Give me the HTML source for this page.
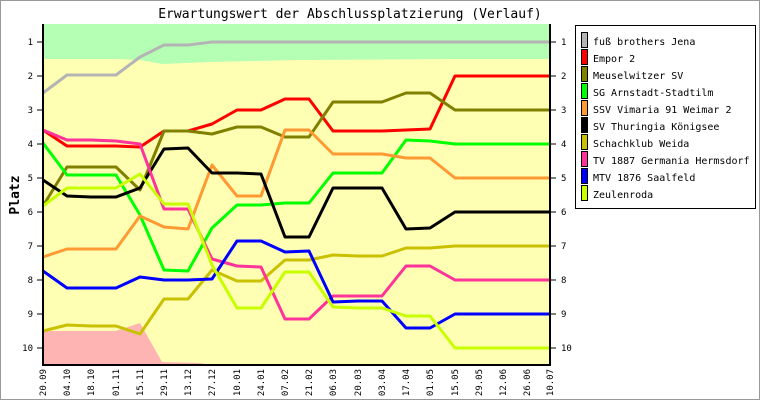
<!DOCTYPE html>
<html><head><meta charset="utf-8"><style>
html,body{margin:0;padding:0;background:#fff}
svg{display:block}
text{font-family:"DejaVu Sans Mono","Liberation Mono",monospace}
</style></head><body>
<svg width="760" height="400" viewBox="0 0 760 400" xmlns="http://www.w3.org/2000/svg">
<rect x="0.5" y="0.5" width="759" height="399" fill="#fff" stroke="#999"/>
<text x="350" y="18" font-size="13" text-anchor="middle" fill="#000">Erwartungswert der Abschlussplatzierung (Verlauf)</text>
<text transform="translate(19,195) rotate(-90)" font-size="13" font-weight="bold" text-anchor="middle" fill="#000">Platz</text>
<rect x="43" y="24" width="507" height="341" fill="#ffffb4"/>
<path d="M43,24 H550 V59 L460,59 L300,60 L210,62 L162,64 L140,60 L116,59 L43,59 Z" fill="#b4ffb4"/>
<path d="M43,331 L116,331 L140,323 L162,362 L200,363 L210,365 L43,365 Z" fill="#ffb4b4"/>
<g fill="none" stroke-width="3" stroke-linejoin="round">
<polyline stroke="#b4b4b4" points="43,93 67,75 91,75 116,75 140,57 164,45 188,45 212,42 237,42 261,42 285,42 309,42 333,42 358,42 382,42 406,42 430,42 455,42 479,42 503,42 527,42 550,42"/>
<polyline stroke="#ff0000" points="43,130 67,146 91,146 116,146 140,147 164,131 188,131 212,124 237,110 261,110 285,99 309,99 333,131 358,131 382,131 406,130 430,129 455,76 479,76 503,76 527,76 550,76"/>
<polyline stroke="#808000" points="43,206 67,167 91,167 116,167 140,190 164,131 188,131 212,134 237,127 261,127 285,137 309,137 333,102 358,102 382,102 406,93 430,93 455,110 479,110 503,110 527,110 550,110"/>
<polyline stroke="#00ff00" points="43,143 67,175 91,175 116,175 140,215 164,270 188,271 212,228 237,205 261,205 285,203 309,203 333,173 358,173 382,173 406,140 430,141 455,144 479,144 503,144 527,144 550,144"/>
<polyline stroke="#ff9933" points="43,257 67,249 91,249 116,249 140,216 164,227 188,229 212,165 237,196 261,196 285,130 309,130 333,154 358,154 382,154 406,158 430,158 455,178 479,178 503,178 527,178 550,178"/>
<polyline stroke="#000000" points="43,180 67,196 91,197 116,197 140,188 164,149 188,148 212,173 237,173 261,174 285,237 309,237 333,188 358,188 382,188 406,229 430,228 455,212 479,212 503,212 527,212 550,212"/>
<polyline stroke="#c8c000" points="43,331 67,325 91,326 116,326 140,334 164,299 188,299 212,270 237,281 261,281 285,260 309,260 333,255 358,256 382,256 406,248 430,248 455,246 479,246 503,246 527,246 550,246"/>
<polyline stroke="#ff3399" points="43,130 67,140 91,140 116,141 140,144 164,209 188,209 212,259 237,266 261,267 285,319 309,319 333,296 358,296 382,296 406,266 430,266 455,280 479,280 503,280 527,280 550,280"/>
<polyline stroke="#0000ff" points="43,271 67,288 91,288 116,288 140,277 164,280 188,280 212,279 237,241 261,241 285,252 309,251 333,302 358,301 382,301 406,328 430,328 455,314 479,314 503,314 527,314 550,314"/>
<polyline stroke="#c8ff00" points="43,206 67,188 91,188 116,188 140,174 164,204 188,204 212,265 237,308 261,308 285,272 309,272 333,307 358,308 382,308 406,316 430,316 455,348 479,348 503,348 527,348 550,348"/>
</g>
<g stroke="#000" stroke-width="2"><line x1="43" y1="24" x2="43" y2="366"/><line x1="42" y1="365" x2="551" y2="365"/><line x1="550" y1="24" x2="550" y2="366"/></g>
<g stroke="#000" stroke-width="1">
<line x1="37" y1="42" x2="43" y2="42"/><line x1="37" y1="76" x2="43" y2="76"/><line x1="37" y1="110" x2="43" y2="110"/><line x1="37" y1="144" x2="43" y2="144"/><line x1="37" y1="178" x2="43" y2="178"/><line x1="37" y1="212" x2="43" y2="212"/><line x1="37" y1="246" x2="43" y2="246"/><line x1="37" y1="280" x2="43" y2="280"/><line x1="37" y1="314" x2="43" y2="314"/><line x1="37" y1="348" x2="43" y2="348"/>
<line x1="550" y1="42" x2="556" y2="42"/><line x1="550" y1="76" x2="556" y2="76"/><line x1="550" y1="110" x2="556" y2="110"/><line x1="550" y1="144" x2="556" y2="144"/><line x1="550" y1="178" x2="556" y2="178"/><line x1="550" y1="212" x2="556" y2="212"/><line x1="550" y1="246" x2="556" y2="246"/><line x1="550" y1="280" x2="556" y2="280"/><line x1="550" y1="314" x2="556" y2="314"/><line x1="550" y1="348" x2="556" y2="348"/>
</g>
<g font-size="9" fill="#000" text-anchor="end">
<text x="33" y="45">1</text><text x="33" y="79">2</text><text x="33" y="113">3</text><text x="33" y="147">4</text><text x="33" y="181">5</text><text x="33" y="215">6</text><text x="33" y="249">7</text><text x="33" y="283">8</text><text x="33" y="317">9</text><text x="33" y="351">10</text>
</g>
<g font-size="9" fill="#000">
<text x="561" y="45">1</text><text x="561" y="79">2</text><text x="561" y="113">3</text><text x="561" y="147">4</text><text x="561" y="181">5</text><text x="561" y="215">6</text><text x="561" y="249">7</text><text x="561" y="283">8</text><text x="561" y="317">9</text><text x="561" y="351">10</text>
</g>
<g font-size="9" fill="#000" text-anchor="end">
<text transform="translate(46,369) rotate(-90)">20.09</text>
<text transform="translate(70,369) rotate(-90)">04.10</text>
<text transform="translate(94,369) rotate(-90)">18.10</text>
<text transform="translate(119,369) rotate(-90)">01.11</text>
<text transform="translate(143,369) rotate(-90)">15.11</text>
<text transform="translate(167,369) rotate(-90)">29.11</text>
<text transform="translate(191,369) rotate(-90)">13.12</text>
<text transform="translate(215,369) rotate(-90)">27.12</text>
<text transform="translate(240,369) rotate(-90)">10.01</text>
<text transform="translate(264,369) rotate(-90)">24.01</text>
<text transform="translate(288,369) rotate(-90)">07.02</text>
<text transform="translate(312,369) rotate(-90)">21.02</text>
<text transform="translate(336,369) rotate(-90)">06.03</text>
<text transform="translate(361,369) rotate(-90)">20.03</text>
<text transform="translate(385,369) rotate(-90)">03.04</text>
<text transform="translate(409,369) rotate(-90)">17.04</text>
<text transform="translate(433,369) rotate(-90)">01.05</text>
<text transform="translate(458,369) rotate(-90)">15.05</text>
<text transform="translate(482,369) rotate(-90)">29.05</text>
<text transform="translate(506,369) rotate(-90)">12.06</text>
<text transform="translate(530,369) rotate(-90)">26.06</text>
<text transform="translate(553,369) rotate(-90)">10.07</text>
</g>
<rect x="575.5" y="25.5" width="180" height="183" fill="#fff" stroke="#000"/>
<g stroke="#000" stroke-width="1">
<rect x="581.5" y="32.5" width="6" height="15" fill="#b4b4b4"/>
<rect x="581.5" y="49.5" width="6" height="15" fill="#ff0000"/>
<rect x="581.5" y="66.5" width="6" height="15" fill="#808000"/>
<rect x="581.5" y="83.5" width="6" height="15" fill="#00ff00"/>
<rect x="581.5" y="100.5" width="6" height="15" fill="#ff9933"/>
<rect x="581.5" y="117.5" width="6" height="15" fill="#000000"/>
<rect x="581.5" y="134.5" width="6" height="15" fill="#c8c000"/>
<rect x="581.5" y="151.5" width="6" height="15" fill="#ff3399"/>
<rect x="581.5" y="168.5" width="6" height="15" fill="#0000ff"/>
<rect x="581.5" y="185.5" width="6" height="15" fill="#c8ff00"/>
</g>
<g font-size="10" fill="#000">
<text x="593" y="45">fuß brothers Jena</text>
<text x="593" y="62">Empor 2</text>
<text x="593" y="79">Meuselwitzer SV</text>
<text x="593" y="96">SG Arnstadt-Stadtilm</text>
<text x="593" y="113">SSV Vimaria 91 Weimar 2</text>
<text x="593" y="130">SV Thuringia Königsee</text>
<text x="593" y="147">Schachklub Weida</text>
<text x="593" y="164">TV 1887 Germania Hermsdorf</text>
<text x="593" y="181">MTV 1876 Saalfeld</text>
<text x="593" y="198">Zeulenroda</text>
</g>
</svg>
</body></html>
